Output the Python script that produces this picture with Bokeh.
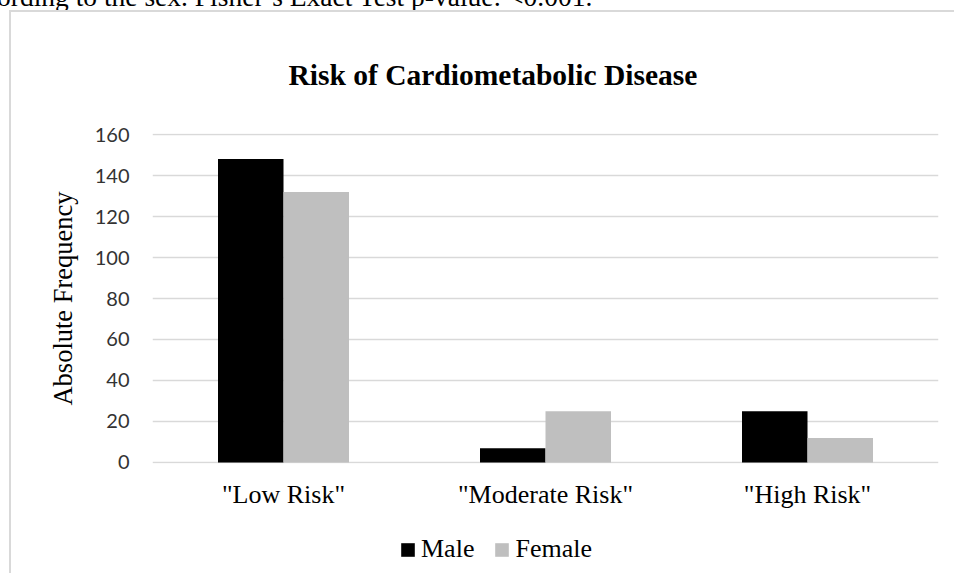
from bokeh.plotting import figure
from bokeh.models import (ColumnDataSource, FactorRange, FixedTicker,
                          Legend, LegendItem, Div)
from bokeh.transform import dodge
from bokeh.embed import file_html
from bokeh.resources import INLINE

# ---- data ----
categories = ['"Low Risk"', '"Moderate Risk"', '"High Risk"']
male = [148, 7, 25]
female = [132, 25, 12]
series_names = ["Male", "Female"]
series_colors = ["#000000", "#bfbfbf"]
y_ticks = [0, 20, 40, 60, 80, 100, 120, 140, 160]
title_text = "Risk of Cardiometabolic Disease"
y_title = "Absolute Frequency"
caption = "ording to the sex. Fisher\u2019s Exact Test p-value:  <0.001."

source = ColumnDataSource(data=dict(cat=categories, male=male, female=female))

border_css = ("linear-gradient(#d9d9d9,#d9d9d9) 9px 10px / 2px 100% no-repeat, "
              "linear-gradient(#d9d9d9,#d9d9d9) 9px 10px / 100% 2px no-repeat")

# ---- main chart ----
p = figure(x_range=FactorRange(factors=categories), y_range=(-0.5, 160.5),
           width=954, height=573, output_backend="svg", toolbar_location=None,
           min_border_left=152, min_border_right=16, min_border_top=133,
           min_border_bottom=110, title=title_text,
           styles={"background": border_css})
p.outline_line_color = None
p.background_fill_color = "white"
p.border_fill_alpha = 0

p.vbar(x=dodge("cat", -0.125, range=p.x_range), top="male", width=0.25,
       source=source, fill_color=series_colors[0], line_color=None)
p.vbar(x=dodge("cat", 0.125, range=p.x_range), top="female", width=0.25,
       source=source, fill_color=series_colors[1], line_color=None)

p.title.text_font = "Liberation Serif"
p.title.text_font_style = "bold"
p.title.text_font_size = "29.5px"
p.title.text_color = "black"
p.title.align = "left"
p.title.offset = 136
p.title.standoff = 85
p.title.vertical_align = "bottom"

p.yaxis.ticker = FixedTicker(ticks=y_ticks)
p.ygrid.ticker = FixedTicker(ticks=y_ticks)
p.ygrid.grid_line_color = "#d9d9d9"
p.ygrid.grid_line_width = 1.6
p.xgrid.visible = False
for ax in (p.xaxis, p.yaxis):
    ax.axis_line_color = None
    ax.major_tick_line_color = None
    ax.minor_tick_line_color = None
p.yaxis.major_label_standoff = 17
p.yaxis.major_label_text_font = "Lato"
p.yaxis.major_label_text_font_size = "20px"
p.yaxis.major_label_text_color = "#333333"
p.yaxis.axis_label = y_title
p.yaxis.axis_label_text_font = "Liberation Serif"
p.yaxis.axis_label_text_font_style = "normal"
p.yaxis.axis_label_text_font_size = "26.5px"
p.yaxis.axis_label_text_color = "black"
p.yaxis.axis_label_standoff = 14
p.xaxis.major_label_standoff = 10
p.xaxis.major_label_text_font = "Liberation Serif"
p.xaxis.major_label_text_font_size = "26px"
p.xaxis.major_label_text_color = "black"

# ---- legend (own small figure laid over the chart's bottom) ----
lf = figure(width=300, height=50, output_backend="svg", toolbar_location=None,
            min_border=0, margin=(-43, 0, -7, 380),
            x_range=(0, 1), y_range=(0, 1))
lf.axis.visible = False
lf.grid.visible = False
lf.outline_line_color = None
lf.background_fill_alpha = 0
lf.border_fill_alpha = 0
# zero-height proxies that only carry the series colours for the legend
lm = lf.vbar(x=[0.5], top=[0], width=0, fill_color=series_colors[0], line_color=None)
lfe = lf.vbar(x=[0.5], top=[0], width=0, fill_color=series_colors[1], line_color=None)
legend = Legend(items=[LegendItem(label=series_names[0], renderers=[lm]),
                       LegendItem(label=series_names[1], renderers=[lfe])],
                orientation="horizontal", location=(19, 14),
                glyph_width=17, glyph_height=17, label_standoff=5, spacing=19,
                padding=0, margin=0, border_line_color=None,
                background_fill_alpha=0, label_text_font="Liberation Serif",
                label_text_font_size="26px", label_text_color="black",
                label_text_baseline="alphabetic", label_height=34)
lf.add_layout(legend)

# ---- cut-off caption line above the chart ----
cap = Div(text=caption, render_as_text=True, width=980, height=17,
          margin=(-17, 0, 0, -3),
          styles={"font-family": "Liberation Serif", "font-size": "27.5px",
                  "line-height": "27px", "white-space": "nowrap",
                  "color": "black", "overflow": "visible"})

open("out.html", "w").write(file_html([cap, p, lf], INLINE))
